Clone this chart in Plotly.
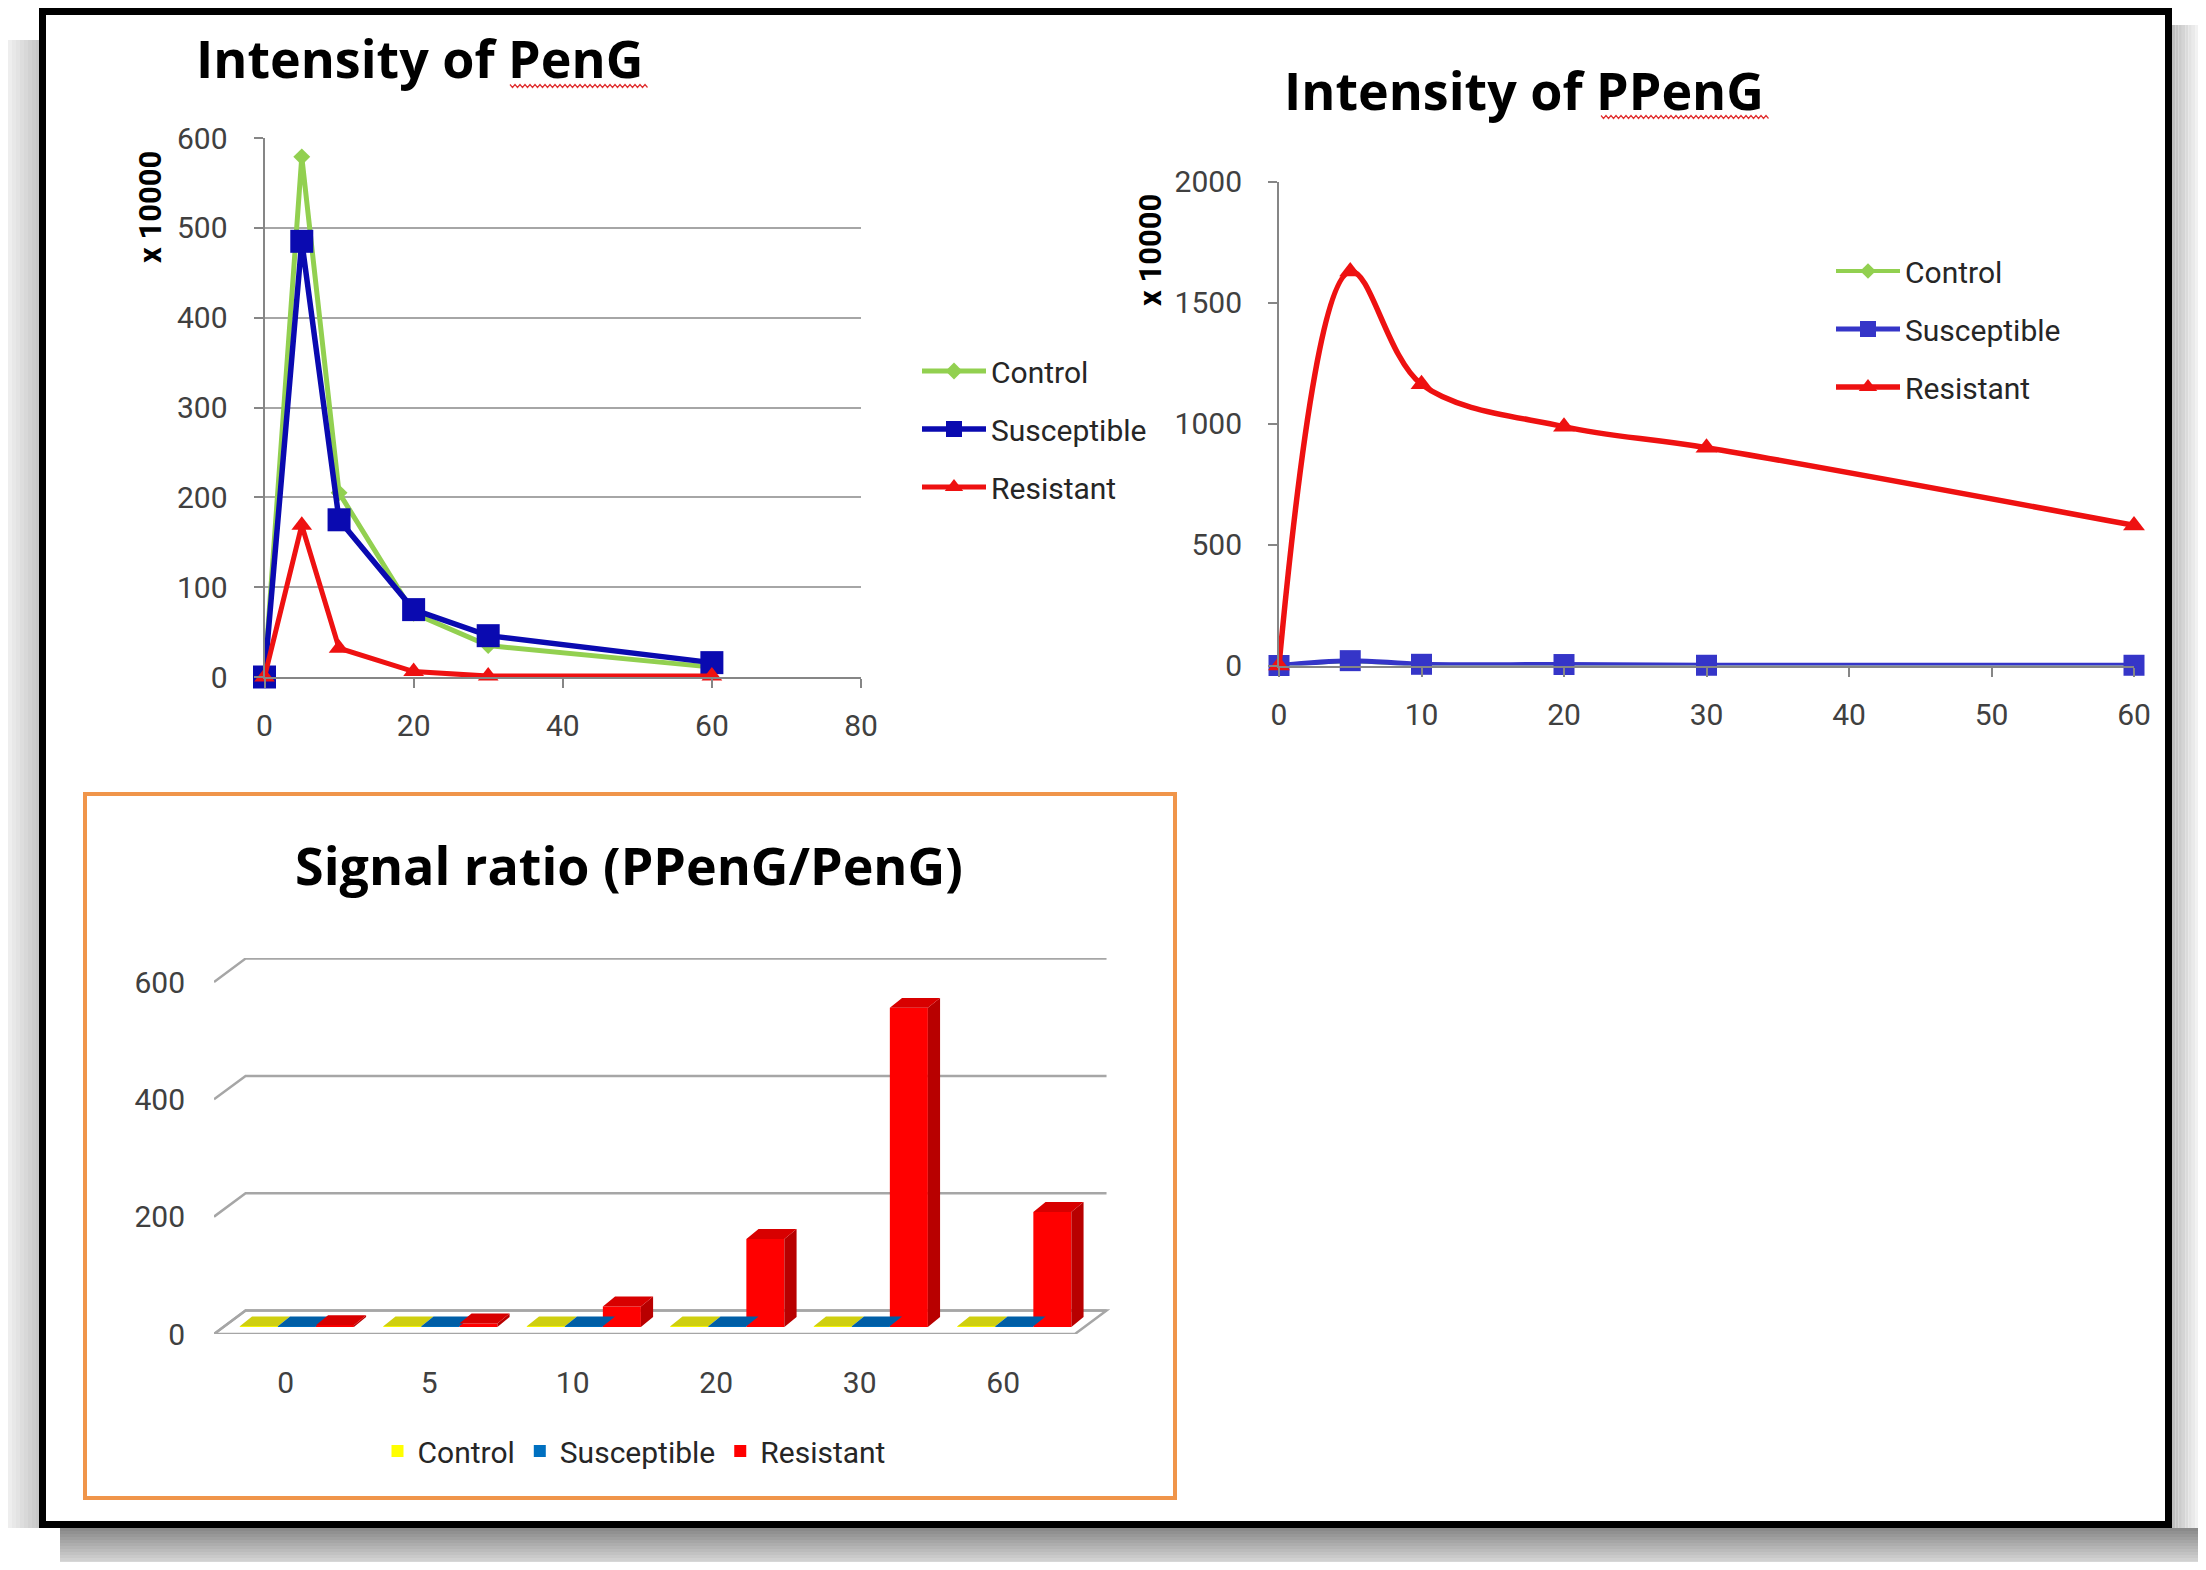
import plotly.graph_objects as go

W, H = 2206, 1570          # browser window
OFF = 8                    # page body margin
FW, FH = W - 2 * OFF, H - 2 * OFF   # figure size

# ---------------- data ----------------
time_peng = [0, 5, 10, 20, 30, 60]
peng_control = [0, 579, 205, 71, 35, 11]
peng_susceptible = [0, 485, 175, 75, 46, 16]
peng_resistant = [0, 169, 32, 6, 1, 1]

time_ppeng = [0, 5, 10, 20, 30, 60]
ppeng_control = [0, 18, 4, 3, 1, 1]
ppeng_susceptible = [0, 20, 5, 4, 1, 1]
ppeng_resistant = [0, 1628, 1162, 987, 900, 579]

ratio_categories = ["0", "5", "10", "20", "30", "60"]
ratio_control = [1, 1, 1, 1, 1, 1]
ratio_susceptible = [1, 1, 1, 1, 1, 1]
ratio_resistant = [3, 6, 35, 150, 544, 196]

series_names = ["Control", "Susceptible", "Resistant"]

FONT = "Roboto"
TFONT = "Open Sans"
TXT = "#404040"
AX = "#868686"
GRID = "#A6A6A6"


def px(x):
    return (x - OFF) / FW


def py(y):
    return 1 - (y - OFF) / FH


fig = go.Figure()

# ---------------- chart 1 : PenG ----------------
c1 = dict(xaxis="x", yaxis="y", legend="legend", mode="lines+markers", cliponaxis=False)
fig.add_trace(go.Scatter(x=time_peng, y=peng_control, name=series_names[0], legendgroup="a1",
                         line=dict(color="#92D050", width=5),
                         marker=dict(symbol="diamond", size=13, color="#92D050"), **c1))
fig.add_trace(go.Scatter(x=time_peng, y=peng_susceptible, name=series_names[1], legendgroup="b1",
                         line=dict(color="#0A0AB0", width=5.5),
                         marker=dict(symbol="square", size=23, color="#0A0AB0"), **c1))
fig.add_trace(go.Scatter(x=time_peng, y=peng_resistant, name=series_names[2], legendgroup="c1",
                         line=dict(color="#EE1111", width=5),
                         marker=dict(symbol="triangle-up", size=18, color="#EE1111"), **c1))

# ---------------- chart 2 : PPenG ----------------
c2 = dict(xaxis="x2", yaxis="y2", legend="legend2", mode="lines+markers", cliponaxis=False)
fig.add_trace(go.Scatter(x=time_ppeng, y=ppeng_control, name=series_names[0], legendgroup="a2",
                         line=dict(color="#92D050", width=4, shape="spline"),
                         marker=dict(symbol="diamond", size=12, color="#92D050"), **c2))
fig.add_trace(go.Scatter(x=time_ppeng, y=ppeng_susceptible, name=series_names[1], legendgroup="b2",
                         line=dict(color="#3535C8", width=5, shape="spline"),
                         marker=dict(symbol="square", size=21, color="#3535C8"), **c2))
fig.add_trace(go.Scatter(x=time_ppeng, y=ppeng_resistant, name=series_names[2], legendgroup="c2",
                         line=dict(color="#EE1111", width=5.5, shape="spline"),
                         marker=dict(symbol="triangle-up", size=19, color="#EE1111"), **c2))

# ---------------- chart 3 : pseudo-3D bars ----------------
bar_base = 12
bar_w = 0.265
start_off = -0.32
ddx, ddy = 0.085, 17
floor_dx, floor_dy = 0.22, 40
n_cat = len(ratio_categories)

bar_styles = [
    (ratio_control, "#FFFF00", "#B5B500", "#CFCF10"),
    (ratio_susceptible, "#0070C0", "#004C85", "#005EA6"),
    (ratio_resistant, "#FF0000", "#B80000", "#D80000"),
]
for k, (vals, front, side, top) in enumerate(bar_styles):
    xs = [i + start_off + k * bar_w for i in range(n_cat)]
    fig.add_trace(go.Bar(x=xs, y=vals, base=bar_base, width=bar_w, offset=0,
                         marker=dict(color=front, line=dict(width=0)),
                         name=series_names[k], xaxis="x3", yaxis="y3", legend="legend3"))
for k, (vals, front, side, top) in enumerate(bar_styles):
    xs = [i + start_off + k * bar_w for i in range(n_cat)]
    sx, sy, tx, ty = [], [], [], []
    for x0, v in zip(xs, vals):
        x1 = x0 + bar_w
        yb, yt = bar_base, bar_base + v
        sx += [x1, x1 + ddx, x1 + ddx, x1, x1, None]
        sy += [yb, yb + ddy, yt + ddy, yt, yb, None]
        tx += [x0, x1, x1 + ddx, x0 + ddx, x0, None]
        ty += [yt, yt, yt + ddy, yt + ddy, yt, None]
    fig.add_trace(go.Scatter(x=sx, y=sy, fill="toself", fillcolor=side, mode="lines",
                             line=dict(width=0, color=side), showlegend=False, hoverinfo="skip",
                             xaxis="x3", yaxis="y3"))
    fig.add_trace(go.Scatter(x=tx, y=ty, fill="toself", fillcolor=top, mode="lines",
                             line=dict(width=0, color=top), showlegend=False, hoverinfo="skip",
                             xaxis="x3", yaxis="y3"))

shapes = []

# shadows (decoration)
steps = 14
for s in range(steps):
    t = s / (steps - 1)
    g = int(0x8A + (0xE6 - 0x8A) * t)
    y0 = 1528 + s * 3
    shapes.append(dict(type="rect", xref="paper", yref="paper", layer="below",
                       x0=px(60), x1=px(2198), y0=py(y0 + 3), y1=py(y0),
                       fillcolor=f"rgb({g},{g},{g})", line=dict(width=0)))
for s in range(8):
    t = s / 7
    g = int(0xBE + (0xF2 - 0xBE) * t)
    x0 = 2172 + s * 3.3
    shapes.append(dict(type="rect", xref="paper", yref="paper", layer="below",
                       x0=px(x0), x1=px(x0 + 3.3), y0=py(1528), y1=py(25),
                       fillcolor=f"rgb({g},{g},{g})", line=dict(width=0)))
for s in range(8):
    t = s / 7
    g = int(0xEE + (0xC8 - 0xEE) * t)
    x0 = 8 + s * 4
    shapes.append(dict(type="rect", xref="paper", yref="paper", layer="below",
                       x0=px(x0), x1=px(x0 + 4), y0=py(1528), y1=py(40),
                       fillcolor=f"rgb({g},{g},{g})", line=dict(width=0)))
# white card + black frame
shapes.append(dict(type="rect", xref="paper", yref="paper", layer="below",
                   x0=px(42.5), x1=px(2168.5), y0=py(1524.5), y1=py(11.5),
                   fillcolor="white", line=dict(color="black", width=7)))
# orange box around chart 3
shapes.append(dict(type="rect", xref="paper", yref="paper", layer="below",
                   x0=px(85), x1=px(1175), y0=py(1498), y1=py(794),
                   fillcolor="rgba(0,0,0,0)", line=dict(color="#F0954A", width=4)))
# 3D floor and back gridlines for chart 3
shapes.append(dict(type="path", xref="x3", yref="y3", layer="below",
                   path=f"M -0.5,0 L {n_cat - 0.5},0 L {n_cat - 0.5 + floor_dx},{floor_dy} "
                        f"L {-0.5 + floor_dx},{floor_dy} Z",
                   fillcolor="white", line=dict(color=GRID, width=2.5)))
for v in [0, 200, 400, 600]:
    shapes.append(dict(type="path", xref="x3", yref="y3", layer="below",
                       path=f"M -0.5,{v} L {-0.5 + floor_dx},{v + floor_dy} "
                            f"L {n_cat - 0.5 + floor_dx},{v + floor_dy}",
                       line=dict(color=GRID, width=2.5)))


# red spell-check squiggles under "PenG" / "PPenG" in the titles
def squiggle(x0, x1, y):
    pts = []
    x, up = x0, True
    while x <= x1:
        pts.append(f"{px(x):.5f},{py(y - 1.5 if up else y + 1.5):.5f}")
        x += 2.5
        up = not up
    return "M " + " L ".join(pts)


for (sx0, sx1, sy0) in [(510, 648, 86), (1601, 1770, 117)]:
    shapes.append(dict(type="path", xref="paper", yref="paper", path=squiggle(sx0, sx1, sy0),
                       line=dict(color="#E03030", width=1.2)))

tfont = dict(family=TFONT, size=52, color="black", weight="bold")
annotations = [
    dict(text="Intensity of PenG", x=px(419), y=py(58), xref="paper", yref="paper",
         showarrow=False, font=tfont, xanchor="center", yanchor="middle"),
    dict(text="Intensity of PPenG", x=px(1524), y=py(89), xref="paper", yref="paper",
         showarrow=False, font=tfont, xanchor="center", yanchor="middle"),
    dict(text="Signal ratio (PPenG/PenG)", x=px(629), y=py(864), xref="paper", yref="paper",
         showarrow=False, font=tfont, xanchor="center", yanchor="middle"),
    dict(text="<b>x 10000</b>", x=px(150), y=py(207), xref="paper", yref="paper", textangle=-90,
         showarrow=False, font=dict(family=FONT, size=31, color="black"), xanchor="center", yanchor="middle"),
    dict(text="<b>x 10000</b>", x=px(1150), y=py(250), xref="paper", yref="paper", textangle=-90,
         showarrow=False, font=dict(family=FONT, size=31, color="black"), xanchor="center", yanchor="middle"),
]

tickfont = dict(family=FONT, size=30, color=TXT)
legfont = dict(family=FONT, size=30, color="#262626")

common_x = dict(automargin=False, showgrid=False, zeroline=False, tickfont=tickfont)

fig.update_layout(
    template="none",
    width=FW, height=FH, autosize=False,
    margin=dict(l=0, r=0, t=0, b=0, pad=0, autoexpand=False),
    paper_bgcolor="white", plot_bgcolor="rgba(0,0,0,0)",
    font=dict(family=FONT, color=TXT),
    showlegend=True,
    barmode="overlay",
    shapes=shapes,
    annotations=annotations,
    xaxis=dict(domain=[px(264.5), px(861)], range=[0, 80], dtick=20, anchor="y",
               showline=True, linecolor=AX, linewidth=2, ticks="outside", ticklen=9, tickwidth=2,
               tickcolor=AX, ticklabelstandoff=12, **common_x),
    yaxis=dict(domain=[py(677), py(138)], range=[0, 600], dtick=100, anchor="x",
               showline=True, linecolor=AX, linewidth=2, ticks="outside", ticklen=9, tickwidth=2,
               tickcolor=AX, automargin=False, showgrid=True, gridcolor=GRID, gridwidth=2,
               zeroline=False, tickfont=tickfont, ticklabelstandoff=20),
    xaxis2=dict(domain=[px(1279), px(2134)], range=[0, 60], dtick=10, anchor="y2",
                showline=True, linecolor=AX, linewidth=2, ticks="outside", ticklen=9, tickwidth=2,
                tickcolor=AX, ticklabelstandoff=12, **common_x),
    yaxis2=dict(domain=[py(665.5), py(181.5)], range=[0, 2000], dtick=500, anchor="x2",
                showline=True, linecolor=AX, linewidth=2, ticks="outside", ticklen=9, tickwidth=2,
                tickcolor=AX, ticklabelstandoff=20, **common_x),
    xaxis3=dict(domain=[px(214), px(1118)], range=[-0.5, 5.8], anchor="y3",
                tickvals=list(range(n_cat)), ticktext=ratio_categories,
                showline=False, ticks="", ticklabelstandoff=28, **common_x),
    yaxis3=dict(domain=[py(1334), py(958)], range=[0, 641], anchor="x3",
                tickvals=[0, 200, 400, 600],
                showline=False, ticks="", ticklabelstandoff=28, **common_x),
    legend=dict(x=px(917), y=py(345), xanchor="left", yanchor="top", font=legfont,
                bgcolor="rgba(0,0,0,0)", tracegroupgap=16, itemwidth=64, traceorder="grouped"),
    legend2=dict(x=px(1831), y=py(245), xanchor="left", yanchor="top", font=legfont,
                 bgcolor="rgba(0,0,0,0)", tracegroupgap=16, itemwidth=64, traceorder="grouped"),
    legend3=dict(x=px(634), y=py(1451), xanchor="center", yanchor="middle", orientation="h",
                 font=legfont, bgcolor="rgba(0,0,0,0)", itemwidth=30),
)

fig.write_html("out.html")
